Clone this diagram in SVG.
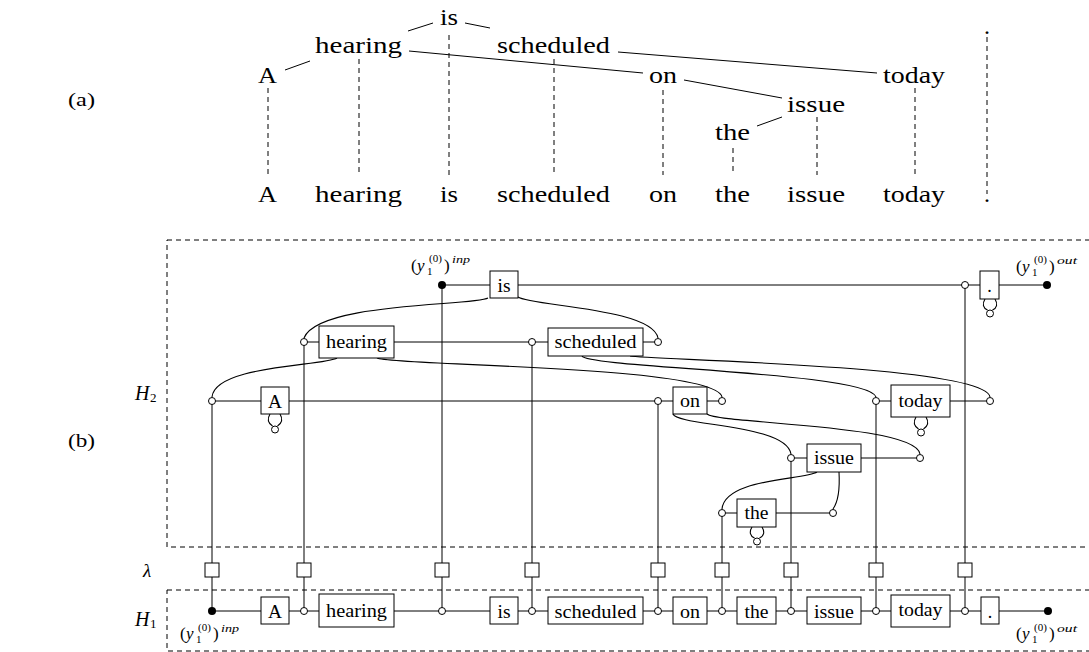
<svg xmlns="http://www.w3.org/2000/svg" width="1089" height="652" viewBox="0 0 1089 652" font-family="'Liberation Serif', 'Times New Roman', serif">
<style>
.ln{stroke:#000;stroke-width:1;fill:none}
.cv{stroke:#000;stroke-width:1.1;fill:none}
.dash{stroke:#000;stroke-width:1;fill:none;stroke-dasharray:5 4}
.box{fill:#fff;stroke:#000;stroke-width:1}
.port{fill:#fff;stroke:#000;stroke-width:1}
.dot{fill:#000}
text{font-family:'Liberation Serif','Times New Roman',serif}
.w{font-size:24px;fill:#000}
.bt{font-size:18px;text-anchor:middle;fill:#000}
.lab{font-size:17px;fill:#000}
.sm{font-size:11px}
.it{font-style:italic}
.side{font-size:20px;font-style:italic;fill:#000}
.sub{font-size:13px;font-style:normal}
</style>

<!-- (a)/(b) labels -->
<text x="68" y="106" style="font-size:18px" textLength="27" lengthAdjust="spacingAndGlyphs">(a)</text>
<text x="68" y="447" style="font-size:18px" textLength="27" lengthAdjust="spacingAndGlyphs">(b)</text>

<!-- (a) tree -->
<g id="tree-a">
  <g id="a-edges">
    <line class="ln" x1="285" y1="70" x2="310" y2="61"/>
    <line class="ln" x1="408" y1="31" x2="433" y2="23"/>
    <line class="ln" x1="465" y1="23" x2="490" y2="28"/>
    <line class="ln" x1="409" y1="51" x2="643" y2="73"/>
    <line class="ln" x1="618" y1="52" x2="877" y2="73"/>
    <line class="ln" x1="684" y1="80" x2="782" y2="98"/>
    <line class="ln" x1="757" y1="126" x2="782" y2="117"/>
  </g>
  <g id="a-align">
    <line class="dash" x1="268" y1="88" x2="268" y2="175"/>
    <line class="dash" x1="359" y1="59" x2="359" y2="175"/>
    <line class="dash" x1="449" y1="35" x2="449" y2="175"/>
    <line class="dash" x1="554" y1="59" x2="554" y2="175"/>
    <line class="dash" x1="663" y1="90" x2="663" y2="175"/>
    <line class="dash" x1="733" y1="148" x2="733" y2="175"/>
    <line class="dash" x1="817" y1="117" x2="817" y2="175"/>
    <line class="dash" x1="915" y1="88" x2="915" y2="175"/>
    <line class="dash" x1="987" y1="37" x2="987" y2="194"/>
  </g>
  <g id="a-top">
    <text class="w" x="440" y="25" textLength="18" lengthAdjust="spacingAndGlyphs">is</text>
    <text class="w" x="315" y="53" textLength="87" lengthAdjust="spacingAndGlyphs">hearing</text>
    <text class="w" x="497" y="53" textLength="113" lengthAdjust="spacingAndGlyphs">scheduled</text>
    <text class="w" x="258" y="83" textLength="19" lengthAdjust="spacingAndGlyphs">A</text>
    <text class="w" x="649" y="83" textLength="28" lengthAdjust="spacingAndGlyphs">on</text>
    <text class="w" x="883" y="83" textLength="62" lengthAdjust="spacingAndGlyphs">today</text>
    <text class="w" x="787" y="112" textLength="58" lengthAdjust="spacingAndGlyphs">issue</text>
    <text class="w" x="715" y="140" textLength="35" lengthAdjust="spacingAndGlyphs">the</text>
    <text class="w" x="984" y="34">.</text>
  </g>
  <g id="a-bottom">
    <text class="w" x="258" y="202" textLength="19" lengthAdjust="spacingAndGlyphs">A</text>
    <text class="w" x="315" y="202" textLength="87" lengthAdjust="spacingAndGlyphs">hearing</text>
    <text class="w" x="440" y="202" textLength="18" lengthAdjust="spacingAndGlyphs">is</text>
    <text class="w" x="497" y="202" textLength="113" lengthAdjust="spacingAndGlyphs">scheduled</text>
    <text class="w" x="649" y="202" textLength="28" lengthAdjust="spacingAndGlyphs">on</text>
    <text class="w" x="715" y="202" textLength="35" lengthAdjust="spacingAndGlyphs">the</text>
    <text class="w" x="787" y="202" textLength="58" lengthAdjust="spacingAndGlyphs">issue</text>
    <text class="w" x="883" y="202" textLength="62" lengthAdjust="spacingAndGlyphs">today</text>
    <text class="w" x="984" y="202">.</text>
  </g>
</g>

<!-- (b) regions -->
<g id="regions">
  <rect class="dash" x="167" y="240" width="940" height="307"/>
  <rect class="dash" x="167" y="590" width="940" height="61"/>
  <text class="side" x="135" y="400">H<tspan class="sub" x="150" y="402">2</tspan></text>
  <text class="side" x="143" y="577" style="font-size:19px">λ</text>
  <text class="side" x="135" y="626">H<tspan class="sub" x="150" y="628">1</tspan></text>
</g>

<!-- connectors -->
<g id="connectors">
  <line class="ln" x1="442" y1="285" x2="1047" y2="285"/>
  <line class="ln" x1="304" y1="342" x2="658" y2="342"/>
  <line class="ln" x1="212" y1="401" x2="722" y2="401"/>
  <line class="ln" x1="876" y1="401" x2="990" y2="401"/>
  <line class="ln" x1="791" y1="458" x2="920" y2="458"/>
  <line class="ln" x1="722" y1="513" x2="833" y2="513"/>
  <line class="ln" x1="212" y1="611" x2="1048" y2="611"/>
  <line class="ln" x1="212" y1="401" x2="212" y2="611"/>
  <line class="ln" x1="304" y1="342" x2="304" y2="611"/>
  <line class="ln" x1="442" y1="285" x2="442" y2="611"/>
  <line class="ln" x1="532" y1="342" x2="532" y2="611"/>
  <line class="ln" x1="658" y1="401" x2="658" y2="611"/>
  <line class="ln" x1="722" y1="513" x2="722" y2="611"/>
  <line class="ln" x1="791" y1="458" x2="791" y2="611"/>
  <line class="ln" x1="876" y1="401" x2="876" y2="611"/>
  <line class="ln" x1="965" y1="285" x2="965" y2="611"/>
  <path class="cv" d="M488,298 C475,306 318,302 304,338"/>
  <path class="cv" d="M518,297 C530,306 652,308 658,338"/>
  <path class="cv" d="M337,358 C325,366 215,365 212,397"/>
  <path class="cv" d="M377,358 C390,366 715,365 722,397"/>
  <path class="cv" d="M582,356 C588,368 868,372 876,397"/>
  <path class="cv" d="M630,356 C650,360 985,365 990,397"/>
  <path class="cv" d="M673,414 C678,426 786,424 791,454"/>
  <path class="cv" d="M707,414 C718,424 915,424 920,454"/>
  <path class="cv" d="M817,472 C805,480 725,478 722,509"/>
  <path class="cv" d="M839,472 C840,490 838,502 833,509"/>
  <path class="cv" d="M270,414 C267,419 268,423 272.5,426 M280,414 C283,419 282,423 277.5,426"/>
  <path class="cv" d="M916,417 C913,422 914,426 918.5,429 M926,417 C929,422 928,426 923.5,429"/>
  <path class="cv" d="M752,527 C749,532 750,536 754.5,538 M762,527 C765,532 764,536 759.5,538"/>
  <path class="cv" d="M985,299 C982,304 983,308 987.5,310 M995,299 C998,304 997,308 992.5,310"/>
</g>

<!-- H2 nodes -->
<g id="h2-is">
  <rect class="box" x="490" y="271" width="28" height="27"/>
  <text class="bt" x="504" y="291.5" textLength="13" lengthAdjust="spacingAndGlyphs">is</text>
</g>
<g id="h2-hearing">
  <rect class="box" x="319" y="326" width="75" height="32"/>
  <text class="bt" x="356.5" y="348" textLength="61" lengthAdjust="spacingAndGlyphs">hearing</text>
  <circle class="port" cx="304" cy="342" r="3.5"/>
</g>
<g id="h2-scheduled">
  <rect class="box" x="548" y="328" width="95" height="28"/>
  <text class="bt" x="595.5" y="348" textLength="82" lengthAdjust="spacingAndGlyphs">scheduled</text>
  <circle class="port" cx="532" cy="342" r="3.5"/>
  <circle class="port" cx="658" cy="342" r="3.5"/>
</g>
<g id="h2-A">
  <rect class="box" x="261" y="387" width="28" height="27"/>
  <text class="bt" x="275" y="408" textLength="14" lengthAdjust="spacingAndGlyphs">A</text>
  <circle class="port" cx="212" cy="401" r="3.5"/>
  <circle class="port" cx="275" cy="429.5" r="3.5"/>
</g>
<g id="h2-on">
  <rect class="box" x="673" y="387" width="34" height="27"/>
  <text class="bt" x="690" y="407" textLength="20" lengthAdjust="spacingAndGlyphs">on</text>
  <circle class="port" cx="658" cy="401" r="3.5"/>
  <circle class="port" cx="722" cy="401" r="3.5"/>
</g>
<g id="h2-today">
  <rect class="box" x="891" y="385" width="59" height="32"/>
  <text class="bt" x="920.5" y="407" textLength="44" lengthAdjust="spacingAndGlyphs">today</text>
  <circle class="port" cx="876" cy="401" r="3.5"/>
  <circle class="port" cx="990" cy="401" r="3.5"/>
  <circle class="port" cx="921" cy="432.5" r="3.5"/>
</g>
<g id="h2-issue">
  <rect class="box" x="807" y="444" width="54" height="28"/>
  <text class="bt" x="834" y="464" textLength="40" lengthAdjust="spacingAndGlyphs">issue</text>
  <circle class="port" cx="791" cy="458" r="3.5"/>
  <circle class="port" cx="920" cy="458" r="3.5"/>
</g>
<g id="h2-the">
  <rect class="box" x="737" y="499" width="39" height="28"/>
  <text class="bt" x="756.5" y="519" textLength="24" lengthAdjust="spacingAndGlyphs">the</text>
  <circle class="port" cx="722" cy="513" r="3.5"/>
  <circle class="port" cx="833" cy="513" r="3.5"/>
  <circle class="port" cx="757" cy="541.5" r="3.5"/>
</g>
<g id="h2-period">
  <rect class="box" x="980" y="271" width="19" height="28"/>
  <text class="bt" x="989.5" y="292">.</text>
  <circle class="port" cx="965" cy="285" r="3.5"/>
  <circle class="port" cx="990" cy="313.5" r="3.5"/>
</g>
<g id="h2-io">
  <circle class="dot" cx="442" cy="285" r="4"/>
  <circle class="dot" cx="1047" cy="285" r="4"/>
  <text class="lab"><tspan x="411" y="271">(</tspan><tspan class="it" x="417" y="271">y</tspan><tspan class="sm" x="427" y="275">1</tspan><tspan class="sm" x="429" y="262">(0)</tspan><tspan x="444" y="271">)</tspan><tspan class="sm it" x="452" y="263" textLength="18" lengthAdjust="spacingAndGlyphs">inp</tspan></text>
  <text class="lab"><tspan x="1016" y="272">(</tspan><tspan class="it" x="1022" y="272">y</tspan><tspan class="sm" x="1032" y="276">1</tspan><tspan class="sm" x="1034" y="263">(0)</tspan><tspan x="1049" y="272">)</tspan><tspan class="sm it" x="1057" y="264" textLength="20" lengthAdjust="spacingAndGlyphs">out</tspan></text>
</g>

<!-- lambda gates -->
<g id="lambda">
  <rect class="box" x="205" y="563" width="14" height="14"/>
  <rect class="box" x="297" y="563" width="14" height="14"/>
  <rect class="box" x="435" y="563" width="14" height="14"/>
  <rect class="box" x="525" y="563" width="14" height="14"/>
  <rect class="box" x="651" y="563" width="14" height="14"/>
  <rect class="box" x="715" y="563" width="14" height="14"/>
  <rect class="box" x="784" y="563" width="14" height="14"/>
  <rect class="box" x="869" y="563" width="14" height="14"/>
  <rect class="box" x="958" y="563" width="14" height="14"/>
</g>

<!-- H1 nodes -->
<g id="h1-A">
  <rect class="box" x="261" y="597" width="28" height="27"/>
  <text class="bt" x="275" y="618" textLength="14" lengthAdjust="spacingAndGlyphs">A</text>
</g>
<g id="h1-hearing">
  <rect class="box" x="319" y="594" width="75" height="33"/>
  <text class="bt" x="356.5" y="617" textLength="61" lengthAdjust="spacingAndGlyphs">hearing</text>
  <circle class="port" cx="304" cy="611" r="3.5"/>
</g>
<g id="h1-is">
  <rect class="box" x="490" y="597" width="28" height="27"/>
  <text class="bt" x="504" y="617.5" textLength="13" lengthAdjust="spacingAndGlyphs">is</text>
  <circle class="port" cx="442" cy="611" r="3.5"/>
</g>
<g id="h1-scheduled">
  <rect class="box" x="548" y="597" width="95" height="27"/>
  <text class="bt" x="595.5" y="617.5" textLength="82" lengthAdjust="spacingAndGlyphs">scheduled</text>
  <circle class="port" cx="532" cy="611" r="3.5"/>
</g>
<g id="h1-on">
  <rect class="box" x="673" y="597" width="34" height="27"/>
  <text class="bt" x="690" y="617.5" textLength="20" lengthAdjust="spacingAndGlyphs">on</text>
  <circle class="port" cx="658" cy="611" r="3.5"/>
</g>
<g id="h1-the">
  <rect class="box" x="737" y="597" width="39" height="27"/>
  <text class="bt" x="756.5" y="617.5" textLength="24" lengthAdjust="spacingAndGlyphs">the</text>
  <circle class="port" cx="722" cy="611" r="3.5"/>
</g>
<g id="h1-issue">
  <rect class="box" x="807" y="597" width="54" height="27"/>
  <text class="bt" x="834" y="617.5" textLength="40" lengthAdjust="spacingAndGlyphs">issue</text>
  <circle class="port" cx="791" cy="611" r="3.5"/>
</g>
<g id="h1-today">
  <rect class="box" x="891" y="595" width="59" height="32"/>
  <text class="bt" x="920.5" y="616" textLength="44" lengthAdjust="spacingAndGlyphs">today</text>
  <circle class="port" cx="876" cy="611" r="3.5"/>
</g>
<g id="h1-period">
  <rect class="box" x="981" y="597" width="18" height="27"/>
  <text class="bt" x="990" y="618">.</text>
  <circle class="port" cx="965" cy="611" r="3.5"/>
</g>
<g id="h1-io">
  <circle class="dot" cx="212" cy="611" r="4"/>
  <circle class="dot" cx="1048" cy="611" r="4"/>
  <text class="lab"><tspan x="180" y="639">(</tspan><tspan class="it" x="186" y="639">y</tspan><tspan class="sm" x="196" y="643">1</tspan><tspan class="sm" x="198" y="631">(0)</tspan><tspan x="213" y="639">)</tspan><tspan class="sm it" x="221" y="632" textLength="18" lengthAdjust="spacingAndGlyphs">inp</tspan></text>
  <text class="lab"><tspan x="1016" y="639">(</tspan><tspan class="it" x="1022" y="639">y</tspan><tspan class="sm" x="1032" y="643">1</tspan><tspan class="sm" x="1034" y="631">(0)</tspan><tspan x="1049" y="639">)</tspan><tspan class="sm it" x="1057" y="632" textLength="20" lengthAdjust="spacingAndGlyphs">out</tspan></text>
</g>
</svg>
